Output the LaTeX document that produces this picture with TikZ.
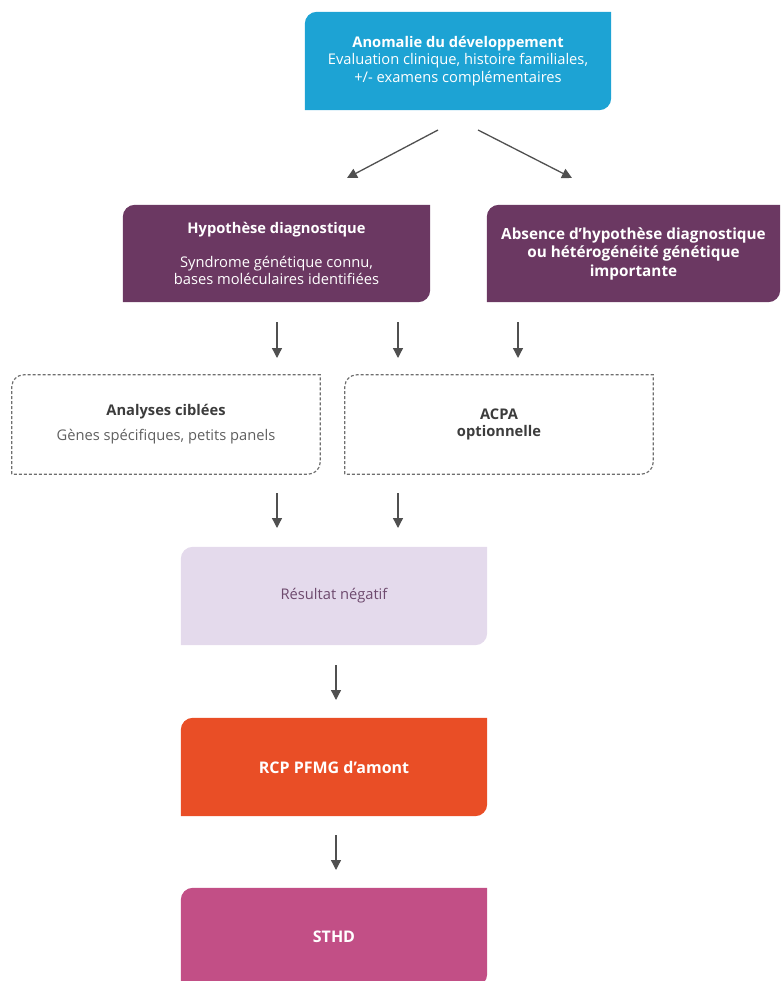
\documentclass[tikz,border=0pt]{standalone}
\usepackage{fontspec}
\setmainfont{Open Sans}
\usetikzlibrary{arrows.meta,backgrounds}
\definecolor{cblue}{RGB}{29,163,212}
\definecolor{cplum}{RGB}{107,56,98}
\definecolor{clav}{RGB}{228,218,236}
\definecolor{corange}{RGB}{233,78,38}
\definecolor{cpink}{RGB}{194,79,134}
\definecolor{cdash}{RGB}{110,110,110}
\definecolor{carrow}{RGB}{80,80,80}
\definecolor{ctitle}{RGB}{60,60,60}
\definecolor{cbody}{RGB}{95,95,95}
\definecolor{cres}{RGB}{110,74,110}
\newcommand\cutbox[2]{\path[#2] (#1.south west) -- ([yshift=-12pt]#1.north west) arc[start angle=180,end angle=90,radius=12pt] -- (#1.north east) -- ([yshift=12pt]#1.south east) arc[start angle=0,end angle=-90,radius=12pt] -- cycle;}
\tikzset{
  box/.style={rectangle, inner sep=0pt, align=center, font=\fontsize{14.7}{17.8}\selectfont},
  arr/.style={draw=carrow, line width=1.3pt, -{Triangle[length=10pt,width=10pt]}},
}
\begin{document}
\begin{tikzpicture}[x=1pt,y=-1pt]
\useasboundingbox (0,0) rectangle (780,981);
\clip (0,0) rectangle (780,981);
% nodes
\node[box, minimum width=306pt, minimum height=98pt, text=white] (top) at (458,61)
  {\textbf{Anomalie du développement}\\Evaluation clinique, histoire familiales,\\+/- examens complémentaires};
\node[box, minimum width=307pt, minimum height=97pt, text=white] (hyp) at (276.5,253.5)
  {\textbf{Hypothèse diagnostique}\\[16pt]Syndrome génétique connu,\\bases moléculaires identifiées};
\node[box, minimum width=293pt, minimum height=97pt, text=white, font=\fontsize{15.3}{18.5}\selectfont\bfseries] (abs) at (633.5,253.5)
  {Absence d’hypothèse diagnostique\\ou hétérogénéité génétique\\importante};
\node[box, minimum width=308pt, minimum height=99pt] (ana) at (166,424.5)
  {\textcolor{ctitle}{\textbf{Analyses ciblées}}\\[7pt]\textcolor{cbody}{Gènes spécifiques, petits panels}};
\node[box, minimum width=308pt, minimum height=99pt, text=ctitle, font=\fontsize{14.7}{17.5}\selectfont\bfseries] (acpa) at (499,424.5)
  {ACPA\\optionnelle};
\node[box, minimum width=306pt, minimum height=98pt, text=cres] (res) at (334,596) {Résultat négatif};
\node[box, minimum width=306pt, minimum height=98pt, text=white, font=\fontsize{16}{18}\selectfont\bfseries] (rcp) at (334,767) {RCP PFMG d’amont};
\node[box, minimum width=306pt, minimum height=98pt, text=white, font=\fontsize{16}{18}\selectfont\bfseries] (sthd) at (334,937) {STHD};
% backgrounds
\begin{scope}[on background layer]
\cutbox{top}{fill=cblue}
\cutbox{hyp}{fill=cplum}
\cutbox{abs}{fill=cplum}
\cutbox{ana}{draw=cdash, line width=1.2pt, dash pattern=on 3pt off 2pt}
\cutbox{acpa}{draw=cdash, line width=1.2pt, dash pattern=on 3pt off 2pt}
\cutbox{res}{fill=clav}
\cutbox{rcp}{fill=corange}
\cutbox{sthd}{fill=cpink}
\end{scope}
% arrow end points
\coordinate (t1) at (438,130); \coordinate (h1) at (347,178);
\coordinate (t2) at (478,130); \coordinate (a1) at (572,178);
\coordinate (d1s) at (277,322); \coordinate (d1e) at (277,358);
\coordinate (d2s) at (398,322); \coordinate (d2e) at (398,358);
\coordinate (d3s) at (518,322); \coordinate (d3e) at (518,358);
\coordinate (e1s) at (277,493); \coordinate (e1e) at (277,528);
\coordinate (e2s) at (398,493); \coordinate (e2e) at (398,528);
\coordinate (f1s) at (336,665); \coordinate (f1e) at (336,700);
\coordinate (g1s) at (336,835); \coordinate (g1e) at (336,870);
\draw[arr] (t1) -- (h1);
\draw[arr] (t2) -- (a1);
\draw[arr] (d1s) -- (d1e);
\draw[arr] (d2s) -- (d2e);
\draw[arr] (d3s) -- (d3e);
\draw[arr] (e1s) -- (e1e);
\draw[arr] (e2s) -- (e2e);
\draw[arr] (f1s) -- (f1e);
\draw[arr] (g1s) -- (g1e);
\end{tikzpicture}
\end{document}
